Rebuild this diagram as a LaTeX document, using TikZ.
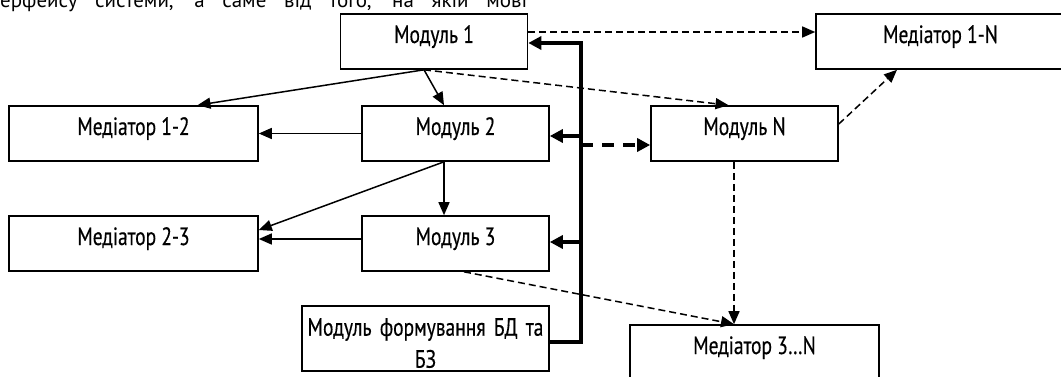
\documentclass[tikz,border=0pt]{standalone}
\usepackage{fontspec}
\setmainfont{PT Sans}
\newfontfamily\narrowfont[FakeStretch=0.78,FakeBold=0.4]{PT Sans}
\usetikzlibrary{arrows.meta}
\tikzset
{
  block/.style={draw,line width=1.6pt,inner sep=0pt,minimum width=187pt,
    text height=29pt,text depth=26pt,font=\narrowfont\fontsize{25}{32}\selectfont},
  wide block/.style={block,minimum width=249pt},
  link/.style={line width=1.5pt,-{Triangle[length=13pt,width=11pt]}},
  dashed link/.style={link,dash pattern=on 7pt off 4pt},
  bus/.style={line width=3.5pt},
  bus link/.style={bus,-{Triangle[length=13pt,width=13pt]}},
  dashed bus link/.style={bus link,dash pattern=on 12pt off 9pt}
}

\begin{document}
\begin{tikzpicture}[x=1pt,y=-1pt,line join=miter]
  \useasboundingbox (0,0) rectangle (1061,377);
  % cut line of the page text
  \node[anchor=base west,inner sep=0pt,font=\fontsize{21}{25}\selectfont] (intro) at (0,7.5)
     {\makebox[527pt][s]{ерфейсу системи, а саме від того, на якій мові}};
  % modules
  \node[block] (m1) at (434,41.5)    {Модуль 1};
  \node[block] (m2) at (455.5,133.5) {Модуль 2};
  \node[block] (m3) at (455.5,243.5) {Модуль 3};
  \node[block] (mN) at (744.5,133.5) {Модуль N};
  \node[block,text width=247pt,align=center,text height=29.7pt,text depth=35.3pt]
     (mdb) at (425.5,338.5) {Модуль формування БД та\\БЗ};
  % mediators
  \node[wide block] (med12) at (133.5,133.5) {Медіатор 1-2};
  \node[wide block] (med23) at (133.5,243.5) {Медіатор 2-3};
  \node[wide block] (med1N) at (940.5,41.5)  {Медіатор 1-N};
  \node[wide block] (med3N) at (754.5,352.5) {Медіатор 3…N};
  % joints
  \coordinate (m1s) at ([xshift=-10pt]m1.south);
  \coordinate (j1) at (581,43);
  \coordinate (j2) at (581,136);
  \coordinate (jN) at (581,145);
  \coordinate (j3) at (581,242);
  \coordinate (j4) at (581,342);
  % solid links
  \draw[link] (m1s) -- ([xshift=64pt]med12.north);
  \draw[link] (m1s) -- ([xshift=-11.5pt]m2.north);
  \draw[link] (m2.west) -- (med12.east);
  \draw[link] ([xshift=-11.5pt]m2.south) -- ([xshift=-11.5pt]m3.north);
  \draw[link] ([xshift=-11.5pt]m2.south) -- ([yshift=13.5pt]med23.east);
  \draw[link] ([yshift=4.5pt]m3.west) -- ([yshift=4.5pt]med23.east);
  % dashed links
  \draw[dashed link] ([yshift=9.5pt]m1.east) -- ([yshift=9.5pt]med1N.west);
  \draw[dashed link] (m1s) -- ([xshift=-16pt]mN.north);
  \draw[dashed link] ([yshift=9.5pt]mN.east) -- ([xshift=-43.5pt]med1N.south);
  \draw[dashed link] ([xshift=-10.5pt]mN.south) -- ([xshift=-20.5pt]med3N.north);
  \draw[dashed link] ([xshift=8.5pt]m3.south) -- ([xshift=-20.5pt]med3N.north);
  % bus
  \draw[bus link] (j4 -| mdb.east) -- (j4) -- (j1) -- (j1 -| m1.east);
  \draw[bus link] (j2) -- (j2 -| m2.east);
  \draw[bus link] (j3) -- (j3 -| m3.east);
  \draw[dashed bus link] (jN) -- (jN -| mN.west);
\end{tikzpicture}
\end{document}
